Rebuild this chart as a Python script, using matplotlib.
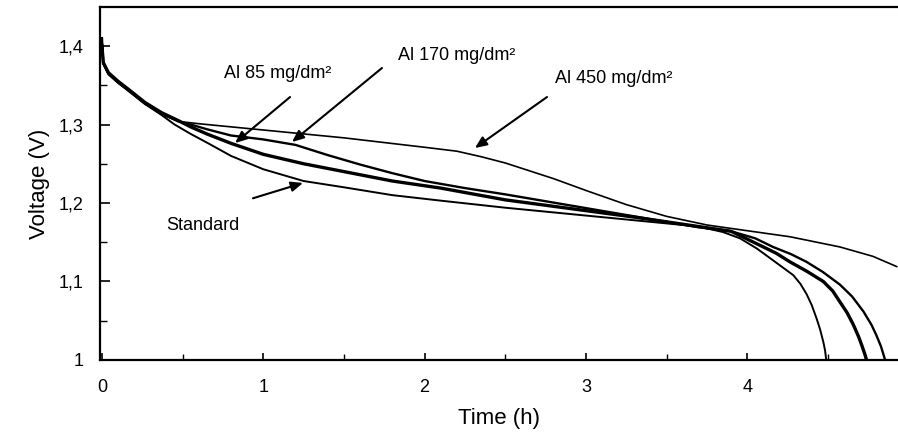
import matplotlib
matplotlib.use('Agg')
import matplotlib.pyplot as plt
from matplotlib.ticker import MultipleLocator, FixedLocator

plt.rcParams['font.family'] = ['Liberation Sans', 'DejaVu Sans']

# discharge curves (time in h, voltage in V)
t_std = [0, 0.008, 0.04, 0.1, 0.163, 0.267, 0.37, 0.45, 0.55, 0.65, 0.8, 1.0, 1.25,
         1.5, 1.8, 2.1, 2.5, 2.9, 3.3, 3.7, 3.85, 3.955, 4.06, 4.16, 4.22, 4.286,
         4.33, 4.368, 4.40, 4.43, 4.452, 4.472, 4.483, 4.49]
v_std = [1.405, 1.378, 1.364, 1.353, 1.343, 1.326, 1.312, 1.300, 1.288, 1.277, 1.260,
         1.243, 1.228, 1.220, 1.210, 1.203, 1.194, 1.186, 1.178, 1.170, 1.163, 1.155,
         1.142, 1.127, 1.118, 1.108, 1.097, 1.084, 1.070, 1.053, 1.039, 1.023, 1.012,
         1.0]

t_85 = [0, 0.008, 0.04, 0.1, 0.163, 0.267, 0.37, 0.473, 0.55, 0.65, 0.8, 1.0, 1.25,
        1.5, 1.8, 2.1, 2.5, 2.9, 3.3, 3.7, 3.9, 4.08, 4.18, 4.265, 4.37, 4.472, 4.53,
        4.575, 4.62, 4.658, 4.69, 4.71, 4.73, 4.74]
v_85 = [1.40, 1.379, 1.366, 1.355, 1.345, 1.328, 1.315, 1.305, 1.297, 1.288, 1.276,
        1.262, 1.250, 1.240, 1.228, 1.219, 1.204, 1.193, 1.182, 1.170, 1.164, 1.146,
        1.136, 1.125, 1.113, 1.100, 1.088, 1.074, 1.060, 1.045, 1.030, 1.019, 1.007,
        1.0]

t_170 = [0, 0.008, 0.04, 0.1, 0.163, 0.267, 0.37, 0.473, 0.55, 0.65, 0.8, 1.0, 1.2,
         1.4, 1.6, 1.8, 2.0, 2.25, 2.5, 2.9, 3.3, 3.7, 3.9, 4.05, 4.16, 4.27, 4.368,
         4.47, 4.575, 4.65, 4.72, 4.77, 4.80, 4.83, 4.855]
v_170 = [1.41, 1.378, 1.365, 1.354, 1.344, 1.327, 1.314, 1.304, 1.300, 1.294, 1.286,
         1.281, 1.274, 1.261, 1.249, 1.238, 1.228, 1.219, 1.211, 1.197, 1.183, 1.169,
         1.164, 1.155, 1.144, 1.135, 1.125, 1.112, 1.096, 1.081, 1.062, 1.045, 1.032,
         1.017, 1.0]

t_450 = [0, 0.008, 0.04, 0.1, 0.163, 0.267, 0.37, 0.473, 0.6, 0.75, 1.0, 1.25, 1.5,
         1.75, 2.0, 2.2, 2.35, 2.5, 2.65, 2.8, 3.0, 3.25, 3.5, 3.75, 3.955, 4.265,
         4.575, 4.78, 4.927]
v_450 = [1.408, 1.377, 1.364, 1.353, 1.343, 1.326, 1.313, 1.304, 1.301, 1.298, 1.293,
         1.288, 1.283, 1.277, 1.271, 1.266, 1.259, 1.251, 1.241, 1.231, 1.216, 1.198,
         1.183, 1.172, 1.166, 1.157, 1.144, 1.132, 1.119]

fig = plt.figure(figsize=(8.98, 4.43), dpi=100)
ax = fig.add_axes([0.1114, 0.1874, 0.8886, 0.7968])

ax.plot(t_std, v_std, color='black', lw=1.4, solid_joinstyle='round')
ax.plot(t_85, v_85, color='black', lw=2.4, solid_joinstyle='round')
ax.plot(t_170, v_170, color='black', lw=1.7, solid_joinstyle='round')
ax.plot(t_450, v_450, color='black', lw=1.2, solid_joinstyle='round')

ax.set_xlim(-0.012, 4.935)
ax.set_ylim(1.0, 1.4497)

ax.xaxis.set_major_locator(FixedLocator([0, 1, 2, 3, 4]))
ax.xaxis.set_minor_locator(MultipleLocator(0.5))
ax.yaxis.set_major_locator(FixedLocator([1.0, 1.1, 1.2, 1.3, 1.4]))
ax.yaxis.set_minor_locator(MultipleLocator(0.05))
ax.set_xticklabels(['0', '1', '2', '3', '4'])
ax.set_yticklabels(['1', '1,1', '1,2', '1,3', '1,4'])

ax.tick_params(axis='both', which='both', direction='in', colors='black', labelsize=13)
ax.tick_params(axis='y', which='major', length=7, width=1.2, pad=12)
ax.tick_params(axis='y', which='minor', length=5, width=1.0)
ax.tick_params(axis='x', which='major', length=5, width=1.2, pad=14)
ax.tick_params(axis='x', which='minor', length=4, width=1.0)

for side in ['left', 'bottom', 'top']:
    ax.spines[side].set_linewidth(1.6)
ax.spines['right'].set_visible(False)

ax.set_xlabel('Time (h)', fontsize=16, labelpad=8)
ax.set_ylabel('Voltage (V)', fontsize=16, labelpad=6)

# labels with arrows
arrow = dict(arrowstyle='-|>,head_length=0.7,head_width=0.3', color='black', lw=1.5,
             shrinkA=0, shrinkB=0)
ax.text(1.091, 1.3656, 'Al 85 mg/dm²', fontsize=13, ha='center', va='center')
ax.annotate('', xy=(0.825, 1.2764), xytext=(1.166, 1.335), arrowprops=arrow)
ax.text(2.201, 1.3885, 'Al 170 mg/dm²', fontsize=13, ha='center', va='center')
ax.annotate('', xy=(1.178, 1.2777), xytext=(1.736, 1.372), arrowprops=arrow)
ax.text(3.174, 1.359, 'Al 450 mg/dm²', fontsize=13, ha='center', va='center')
ax.annotate('', xy=(2.312, 1.270), xytext=(2.759, 1.335), arrowprops=arrow)
ax.text(0.626, 1.1707, 'Standard', fontsize=13, ha='center', va='center')
ax.annotate('', xy=(1.246, 1.2255), xytext=(0.936, 1.206), arrowprops=arrow)

fig.savefig('out.png', dpi=100)
